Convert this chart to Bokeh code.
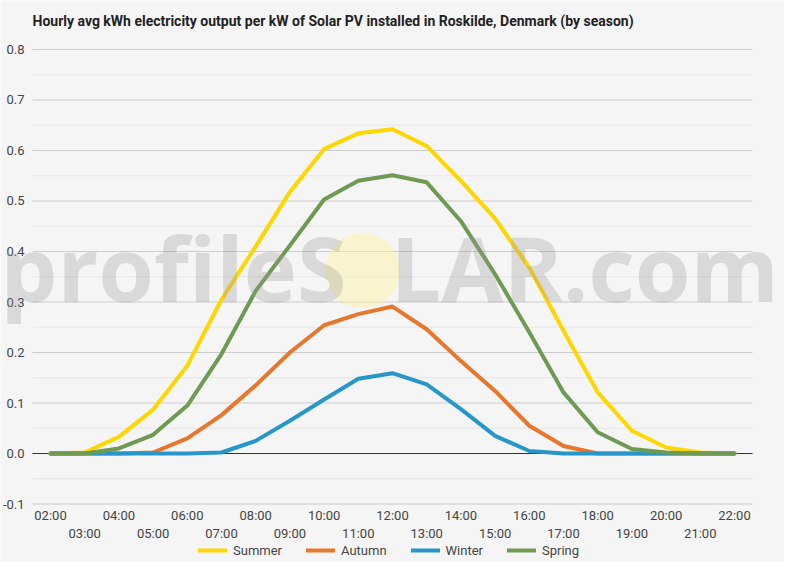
from bokeh.core.properties import value
from bokeh.embed import file_html
from bokeh.models import Label, Legend, LegendItem, Range1d
from bokeh.plotting import figure
from bokeh.resources import INLINE

# hourly average kWh per kW installed
HOURS = list(range(2, 23))
HOUR_LABELS = [f"{h:02d}:00" for h in HOURS]

SUMMER = [0.0, 0.002, 0.033, 0.087, 0.174, 0.305, 0.41, 0.518, 0.603, 0.634, 0.642,
          0.609, 0.54, 0.465, 0.368, 0.243, 0.121, 0.045, 0.012, 0.002, 0.0]
AUTUMN = [0.0, 0.0, 0.0, 0.002, 0.03, 0.076, 0.135, 0.2, 0.254, 0.276, 0.291,
          0.246, 0.183, 0.124, 0.055, 0.015, 0.0, 0.0, 0.0, 0.0, 0.0]
WINTER = [0.0, 0.0, 0.0, 0.0, 0.0, 0.002, 0.025, 0.065, 0.107, 0.148, 0.159,
          0.137, 0.088, 0.035, 0.005, 0.0, 0.0, 0.0, 0.0, 0.0, 0.0]
SPRING = [0.0, 0.0, 0.01, 0.037, 0.095, 0.197, 0.322, 0.412, 0.503, 0.54, 0.551,
          0.537, 0.46, 0.355, 0.24, 0.121, 0.042, 0.009, 0.002, 0.0, 0.0]

SEASONS = ["Summer", "Autumn", "Winter", "Spring"]
SERIES = [SUMMER, AUTUMN, WINTER, SPRING]
COLOURS = ["#FFD600", "#E8772E", "#2796C8", "#6E9A52"]

Y_TICKS = [-0.1, 0.0, 0.1, 0.2, 0.3, 0.4, 0.5, 0.6, 0.7, 0.8]
Y_LABELS = [f"{v:.1f}" for v in Y_TICKS]
Y_MINOR = [-0.05, 0.05, 0.15, 0.25, 0.35, 0.45, 0.55, 0.65, 0.75]

TITLE = "Hourly avg kWh electricity output per kW of Solar PV installed in Roskilde, Denmark (by season)"

BG = "#F5F5F5"
FONT = "Roboto"
TEXT = "#444444"

# The frame fills the whole figure, so nothing (watermark, legend) gets cut at
# its edges. The chart area runs from GRID_X0 to GRID_X1; the tick labels sit
# just outside it.
GRID_X0, GRID_X1 = 1.474, 22.526
Y_LABEL_X = 1.24
X_ROW1_Y, X_ROW2_Y = -0.1228, -0.1584

p = figure(width=784, height=562, output_backend="svg", toolbar_location=None, title=None,
           x_range=Range1d(0.538, 23.462), y_range=Range1d(-0.2158, 0.897),
           x_axis_location=None, y_axis_location=None, min_border=0,
           background_fill_color=BG, border_fill_color=BG, outline_line_color=None)
p.grid.visible = False

p.add_layout(Label(x=32, y=542, x_units="screen", y_units="screen", text=TITLE,
                   text_font=FONT, text_font_size="14px", text_font_style="bold",
                   text_color="#222222", text_baseline="middle"))

# grid
p.segment(x0=GRID_X0, x1=GRID_X1, y0=Y_MINOR, y1=Y_MINOR, line_color="#E6E6E6", line_width=1)
p.segment(x0=GRID_X0, x1=GRID_X1, y0=Y_TICKS, y1=Y_TICKS, line_color="#CCCCCC", line_width=1)
p.segment(x0=GRID_X0, x1=GRID_X1, y0=0, y1=0, line_color="#333333", line_width=1)

label_style = dict(text_baseline="middle", text_font=value(FONT), text_font_size="13px",
                   text_color=TEXT)

# y tick labels
p.text(x=Y_LABEL_X, y=Y_TICKS, text=Y_LABELS, text_align="right", **label_style)

# x tick labels: even hours on the first row, odd hours on the second
p.text(x=HOURS[::2], y=X_ROW1_Y, text=HOUR_LABELS[::2], text_align="center", **label_style)
p.text(x=HOURS[1::2], y=X_ROW2_Y, text=HOUR_LABELS[1::2], text_align="center", **label_style)

# lines
items = []
for name, vals, colour in zip(SEASONS, SERIES, COLOURS):
    r = p.line(HOURS, vals, line_width=4, line_color=colour, line_join="round", line_cap="round")
    items.append(LegendItem(label=name, renderers=[r]))

legend = Legend(items=items, orientation="horizontal", location=(198, 4),
                glyph_width=29, glyph_height=16, label_standoff=6, spacing=24,
                padding=0, margin=0, border_line_color=None, background_fill_alpha=0,
                label_text_font=FONT, label_text_font_size="13px", label_text_color=TEXT)
p.add_layout(legend, "center")

# watermark
wm_style = dict(x_units="screen", y_units="screen", text_font="Open Sans",
                text_font_size="90px", text_font_style="bold",
                text_color="#999999", text_alpha=0.3, text_baseline="alphabetic")
p.add_layout(Label(x=362, y=292, text=" ", text_font_size="1px",
                   x_units="screen", y_units="screen", text_align="center",
                   text_baseline="middle", padding=37, border_radius=37,
                   background_fill_color="#FFF59D", background_fill_alpha=0.45))
p.add_layout(Label(x=0, y=296, text="profileS", **wm_style))
p.add_layout(Label(x=390, y=296, text="LAR.com", **wm_style))

open("out.html", "w").write(file_html(p, INLINE))
